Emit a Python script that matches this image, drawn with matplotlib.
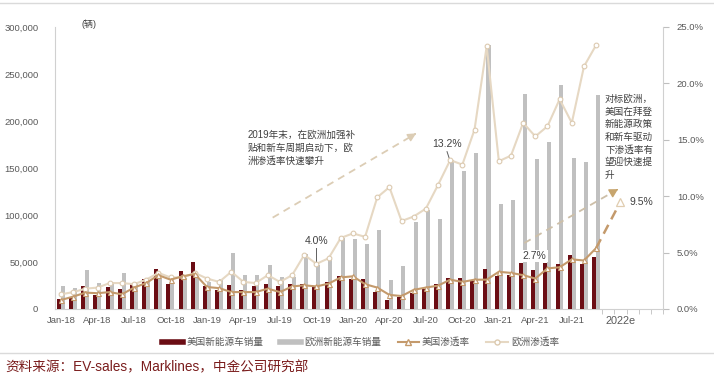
import numpy as np
import matplotlib.pyplot as plt
from matplotlib.lines import Line2D

plt.rcParams['font.family'] = ['Liberation Sans', 'Noto Sans CJK SC']

# monthly data, Jan-18 .. Sep-21
tick_labels = ['Jan-18', 'Apr-18', 'Jul-18', 'Oct-18', 'Jan-19', 'Apr-19', 'Jul-19', 'Oct-19',
               'Jan-20', 'Apr-20', 'Jul-20', 'Oct-20', 'Jan-21', 'Apr-21', 'Jul-21']
future_label = '2022e'

us_sales = [11, 13, 24.5, 15, 23, 21.5, 27, 31.5, 43, 27, 40, 50,
            25, 20, 26, 20, 24, 27, 24, 27, 27, 25, 28.7, 35,
            31.6, 31.6, 18.4, 9.6, 12.4, 16.7, 21, 27, 33, 32.5, 30, 43,
            35, 36, 49, 41, 49, 48, 57, 48, 55]
eu_sales = [24.5, 22, 41, 28, 28, 38, 29, 31, 32, 31, 33, 37,
            29, 32, 59.5, 36.5, 36.5, 46.5, 34, 34, 59, 46.5, 53.5, 75.5,
            75, 69, 84, 31, 46, 93, 105, 96, 158, 147, 166, 281,
            112, 116, 229, 160, 178, 238, 161, 156, 228]
us_rate = [0.8, 1.1, 1.45, 1.4, 1.5, 1.3, 1.9, 2.3, 3.0, 2.6, 2.9, 3.1,
           1.95, 1.85, 1.5, 1.5, 1.5, 1.8, 1.5, 2.0, 2.1, 2.0, 2.25, 2.8,
           2.9, 2.2, 1.9, 1.25, 1.15, 1.7, 1.9, 2.07, 2.6, 2.4, 2.6, 2.6,
           3.3, 3.2, 3.0, 2.7, 3.6, 3.7, 4.4, 4.3, 5.4]
eu_rate = [1.3, 1.5, 1.8, 1.9, 2.3, 2.3, 2.2, 2.6, 3.2, 2.8, 2.8, 3.2,
           2.7, 2.4, 3.3, 2.4, 2.3, 3.0, 2.4, 3.0, 4.8, 4.0, 4.5, 6.3,
           6.7, 6.4, 9.9, 10.8, 7.8, 8.2, 8.9, 11.0, 13.2, 12.8, 15.9, 23.3,
           13.1, 13.6, 16.5, 15.3, 16.2, 18.6, 16.5, 21.5, 23.4]
us_rate_2022e = 9.5

red = '#6B0D14'
grey = '#C0C0C0'
us_col = '#C49A6C'
eu_col = '#E6D8C3'
txt = '#404040'
lab = '#595959'

n = len(us_sales)
x = np.arange(n)
x_fut = n + 1

fig = plt.figure(figsize=(7.14, 3.81), dpi=100)
ax = fig.add_axes([55/714, 1-309/381, 608/714, 282/381])
ax2 = ax.twinx()
ax2.set_zorder(ax.get_zorder() + 1)
ax2.patch.set_visible(False)

ax.bar(x + 0.15, np.array(eu_sales)*1000, width=0.33, color=grey, zorder=2)
ax.bar(x - 0.17, np.array(us_sales)*1000, width=0.33, color=red, zorder=3)

ax.set_xlim(-0.5, 49.5)
ax.set_ylim(0, 300000)
ax.set_yticks(np.arange(0, 300001, 50000))
ax.set_yticklabels(['0'] + ['{:,}'.format(v) for v in range(50000, 300001, 50000)])
ax.tick_params(axis='y', length=0, pad=12, labelsize=6.8, labelcolor=lab)

ax.set_xticks(list(range(0, n, 3)) + [x_fut])
ax.set_xticklabels(tick_labels + [future_label])
ax.tick_params(axis='x', length=0, pad=5, labelsize=6.8, labelcolor=lab)
for t in ax.get_xticklabels()[-1:]:
    t.set_fontsize(7.8)
ax.set_xticks(np.arange(n - 0.5, 50, 1), minor=True)
ax.tick_params(axis='x', which='minor', length=3.5, color='#BFBFBF', direction='out')

for s in ['top', 'right']:
    ax.spines[s].set_visible(False)
for s in ['left', 'bottom']:
    ax.spines[s].set_color('#D0D0D0')
    ax.spines[s].set_linewidth(0.8)

# penetration lines
ax2.plot(x, eu_rate, color=eu_col, lw=1.5, marker='o', ms=3.4,
         mfc='white', mec='#DCCAB0', mew=0.8, zorder=4)
ax2.plot([x[-1], x_fut], [us_rate[-1], us_rate_2022e], color=us_col, lw=1.8,
         ls=(0, (4, 2.5)), zorder=4)
ax2.plot(x, us_rate, color=us_col, lw=1.5, marker='^', ms=3.6,
         mfc='white', mec=us_col, mew=0.8, zorder=5)
ax2.plot([x_fut], [us_rate_2022e], marker='^', ms=5.5, mfc='white',
         mec='#E0CDB0', mew=0.9, zorder=5)

ax2.set_ylim(0, 25)
ax2.set_yticks(np.arange(0, 25.1, 5))
ax2.set_yticklabels(['{:.1f}%'.format(v) for v in np.arange(0, 25.1, 5)])
ax2.tick_params(axis='y', length=4, color='#BFBFBF', pad=6, labelsize=6.8, labelcolor=lab)
for s in ['top', 'left', 'bottom']:
    ax2.spines[s].set_visible(False)
ax2.spines['right'].set_color('#D0D0D0')
ax2.spines['right'].set_linewidth(0.8)

# dashed trend arrows
ax2.plot([17.4, 29.1], [8.1, 15.5], color='#DCCDB5', lw=1.3, ls=(0, (4, 3)), zorder=3)
ax2.annotate('', xy=(29.4, 15.7), xytext=(28.9, 15.38),
             arrowprops=dict(arrowstyle='-|>,head_length=0.5,head_width=0.25',
                             color='#DCCDB5', lw=1), zorder=3)
ax2.plot([38.1, 45.6], [5.85, 10.5], color='#CDBFA8', lw=1.3, ls=(0, (4, 3)), zorder=3)
ax2.annotate('', xy=(46.0, 10.75), xytext=(45.5, 10.44),
             arrowprops=dict(arrowstyle='-|>,head_length=0.5,head_width=0.28',
                             color='#C7A56E', lw=1), zorder=3)

# value labels
ax2.text(21.0, 6.03, '4.0%', ha='center', va='center', fontsize=7.5, color=txt)
ax2.plot([21.0, 21.0], [5.45, 4.2], color='#606060', lw=0.7)
ax2.text(31.7, 14.63, '13.2%', ha='center', va='center', fontsize=7.5, color=txt)
ax2.plot([31.74, 32.0], [13.95, 13.1], color='#606060', lw=0.7)
ax2.text(38.95, 4.7, '2.7%', ha='center', va='center', fontsize=7.5, color=txt,
         bbox=dict(facecolor='white', edgecolor='none', pad=1), zorder=6)
ax2.text(46.75, 9.49, '9.5%', ha='left', va='center', fontsize=7.5, color=txt)

fig.text(248/714, 1-130/381, '2019年末，在欧洲加强补\n贴和新车周期启动下，欧\n洲渗透率快速攀升',
         ha='left', va='top', fontsize=6.9, color=txt, linespacing=1.35)
fig.text(605/714, 1-94/381, '对标欧洲，\n美国在拜登\n新能源政策\n和新车驱动\n下渗透率有\n望迎快速提\n升',
         ha='left', va='top', fontsize=6.9, color=txt, linespacing=1.33)
fig.text(82/714, 1-24/381, '(辆)', ha='left', va='center', fontsize=6.5, color=txt)

handles = [Line2D([0], [0], color=red, lw=4),
           Line2D([0], [0], color=grey, lw=4),
           Line2D([0], [0], color=us_col, lw=1.5, marker='^', ms=4, mfc='white', mec=us_col),
           Line2D([0], [0], color=eu_col, lw=1.5, marker='o', ms=3.6, mfc='white', mec='#DCCAB0')]
fig.legend(handles, ['美国新能源车销量', '欧洲新能源车销量', '美国渗透率', '欧洲渗透率'],
           loc='center', bbox_to_anchor=(0.505, 1-342/381), ncol=4, frameon=False,
           fontsize=6.9, handlelength=2.2, columnspacing=1.7, handletextpad=0.35,
           labelcolor=lab)

fig.add_artist(Line2D([0, 1], [1-3/381, 1-3/381], color='#DADADA', lw=1))
fig.add_artist(Line2D([0, 1], [1-353/381, 1-353/381], color='#DADADA', lw=1))
fig.text(5/714, 1-367/381, '资料来源：EV-sales，Marklines，中金公司研究部',
         ha='left', va='center', fontsize=9.8, color='#7A1C1C')

fig.savefig('out.png', dpi=100)
